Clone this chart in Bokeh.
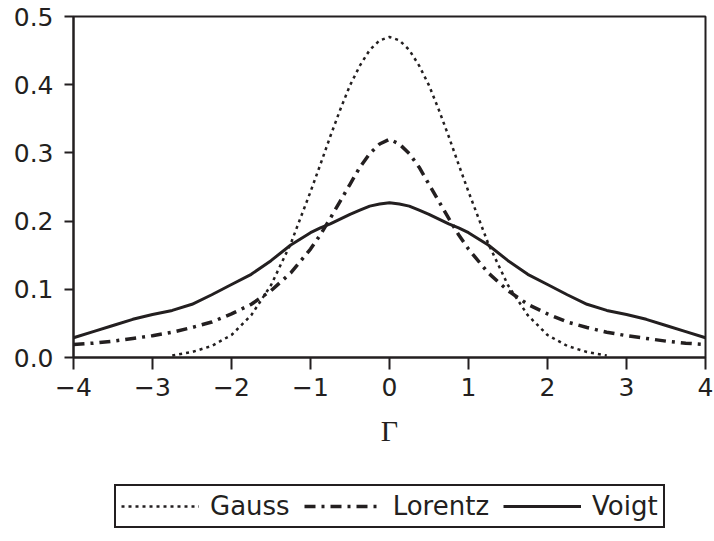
from bokeh.plotting import figure
from bokeh.models import Legend, LegendItem, FixedTicker, Range1d
from bokeh.layouts import column
from bokeh.embed import file_html
from bokeh.resources import INLINE

# ---- data ----
x_vals = [-4.0, -3.75, -3.5, -3.25, -3.0, -2.75, -2.5, -2.25, -2.0, -1.75, -1.5, -1.25,
          -1.0, -0.875, -0.75, -0.625, -0.5, -0.375, -0.25, -0.125, 0.0,
          0.125, 0.25, 0.375, 0.5, 0.625, 0.75, 0.875, 1.0,
          1.25, 1.5, 1.75, 2.0, 2.25, 2.5, 2.75, 3.0, 3.25, 3.5, 3.75, 4.0]

gauss_x = [-2.75, -2.5, -2.25, -2.0, -1.75, -1.5, -1.25,
           -1.0, -0.875, -0.75, -0.625, -0.5, -0.375, -0.25, -0.125, 0.0,
           0.125, 0.25, 0.375, 0.5, 0.625, 0.75, 0.875, 1.0,
           1.25, 1.5, 1.75, 2.0, 2.25, 2.5, 2.75]
gauss_y = [0.003, 0.008, 0.017, 0.033, 0.062, 0.106, 0.167,
           0.243, 0.283, 0.324, 0.363, 0.399, 0.428, 0.451, 0.465, 0.470,
           0.465, 0.451, 0.428, 0.399, 0.363, 0.324, 0.283, 0.243,
           0.167, 0.106, 0.062, 0.033, 0.017, 0.008, 0.003]

lorentz_y = [0.019, 0.021, 0.024, 0.028, 0.032, 0.037, 0.044, 0.052, 0.064, 0.078, 0.098, 0.124,
             0.159, 0.180, 0.204, 0.229, 0.254, 0.279, 0.299, 0.313, 0.320,
             0.313, 0.299, 0.279, 0.254, 0.229, 0.204, 0.180, 0.159,
             0.124, 0.098, 0.078, 0.064, 0.052, 0.044, 0.037, 0.032, 0.028, 0.024, 0.021, 0.019]

voigt_y = [0.029, 0.038, 0.047, 0.056, 0.063, 0.069, 0.078, 0.092, 0.107, 0.122, 0.142, 0.165,
           0.183, 0.190, 0.196, 0.203, 0.210, 0.216, 0.222, 0.225, 0.227,
           0.225, 0.222, 0.216, 0.210, 0.203, 0.196, 0.190, 0.183,
           0.165, 0.142, 0.122, 0.107, 0.092, 0.078, 0.069, 0.063, 0.056, 0.047, 0.038, 0.029]

series_names = ["Gauss", "Lorentz", "Voigt"]

x_ticks = [-4, -3, -2, -1, 0, 1, 2, 3, 4]
x_tick_labels = ["\u22124", "\u22123", "\u22122", "\u22121", "0", "1", "2", "3", "4"]
y_ticks = [0.0, 0.1, 0.2, 0.3, 0.4, 0.5]
y_tick_labels = ["0.0", "0.1", "0.2", "0.3", "0.4", "0.5"]
x_label = "\u0393"

INK = "#231f20"
SANS = "DejaVu Sans"

STYLES = [dict(line_color=INK, line_width=2.5, line_dash="3 4"),
          dict(line_color=INK, line_width=3.5, line_dash="11 6 3 6"),
          dict(line_color=INK, line_width=3)]
SERIES = [(gauss_x, gauss_y), (x_vals, lorentz_y), (x_vals, voigt_y)]

p = figure(width=714, height=460, output_backend="svg", toolbar_location=None,
           x_range=Range1d(-4, 4), y_range=Range1d(0, 0.5),
           min_border_left=73, min_border_right=9, min_border_top=16,
           min_border_bottom=103)

p.xgrid.visible = False
p.ygrid.visible = False
p.outline_line_color = INK
p.outline_line_width = 2
p.outline_line_alpha = 1.0
p.background_fill_color = "white"
p.border_fill_color = "white"

for (xs, ys), st in zip(SERIES, STYLES):
    p.line(xs, ys, line_join="round", **st)

# axes
p.xaxis.ticker = FixedTicker(ticks=x_ticks)
p.xaxis.major_label_overrides = {t: l for t, l in zip(x_ticks, x_tick_labels)}
p.yaxis.ticker = FixedTicker(ticks=y_ticks)
p.yaxis.major_label_overrides = {t: l for t, l in zip(y_ticks, y_tick_labels)}

for ax in (p.xaxis[0], p.yaxis[0]):
    ax.axis_line_color = INK
    ax.axis_line_width = 2
    ax.major_tick_line_color = INK
    ax.major_tick_line_width = 2
    ax.major_tick_in = 0
    ax.minor_tick_line_color = None
    ax.major_label_text_font = SANS
    ax.major_label_text_font_size = "25px"
    ax.major_label_text_color = INK

p.xaxis.major_tick_out = 12
p.xaxis.major_label_standoff = 8
p.yaxis.major_tick_out = 9
p.yaxis.major_label_standoff = 11

p.xaxis.axis_label = x_label
p.xaxis.axis_label_text_font = "Liberation Serif"
p.xaxis.axis_label_text_font_style = "normal"
p.xaxis.axis_label_text_font_size = "30px"
p.xaxis.axis_label_text_color = INK
p.xaxis.axis_label_standoff = 15

# ---- legend strip below the chart (its own lines lie outside its visible range) ----
lg = figure(width=714, height=81, output_backend="svg", toolbar_location=None,
            x_axis_type=None, y_axis_type=None,
            x_range=Range1d(-4, 4), y_range=Range1d(5, 6), min_border=0)
lg.xgrid.visible = False
lg.ygrid.visible = False
lg.outline_line_color = None
lg.background_fill_color = "white"
lg.border_fill_color = "white"

keys = [lg.line(xs, ys, **st) for (xs, ys), st in zip(SERIES, STYLES)]

legend = Legend(items=[LegendItem(label=n, renderers=[r]) for n, r in zip(series_names, keys)],
                orientation="horizontal", location=(41, 13), margin=0,
                glyph_width=78, glyph_height=24, label_standoff=11, spacing=14,
                padding=5, border_line_color=INK, border_line_width=2, border_line_alpha=1.0,
                background_fill_color="white", background_fill_alpha=1.0,
                label_text_font=SANS, label_text_font_size="26px",
                label_text_color=INK, click_policy="none")
lg.add_layout(legend)

page = column(p, lg, spacing=0)

open("out.html", "w").write(file_html(page, INLINE))
